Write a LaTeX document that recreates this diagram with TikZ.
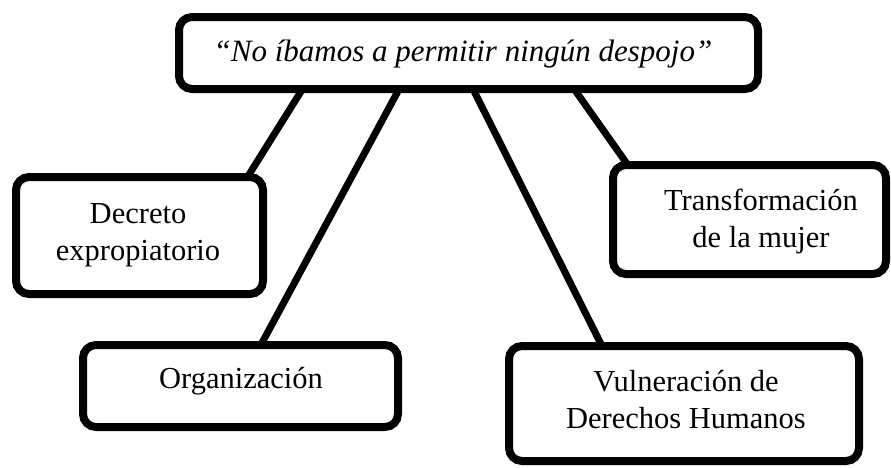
\documentclass[tikz,border=0pt]{standalone}
\usepackage{fontspec}
\setmainfont{Liberation Serif}
\usetikzlibrary{backgrounds}
\begin{document}
\begin{tikzpicture}[x=1pt,y=-1pt,
  boxnode/.style={draw=black,fill=white,line width=8pt,rounded corners=13pt,inner sep=0pt},
  conn/.style={draw=black,line width=7pt,shorten <=-6pt,shorten >=-6pt},
  lbl/.style={inner sep=0pt,align=center,font=\fontsize{30.5}{37}\selectfont}
]
\useasboundingbox (0,0) rectangle (891,467);
\node[boxnode,minimum width=579pt,minimum height=72pt] (top) at (468.5,53) {};
\node[boxnode,minimum width=247pt,minimum height=117pt] (dec) at (139.5,235.5) {};
\node[boxnode,minimum width=315pt,minimum height=82pt] (org) at (240.5,386) {};
\node[boxnode,minimum width=350pt,minimum height=115pt] (vul) at (684,403.5) {};
\node[boxnode,minimum width=273pt,minimum height=109pt] (tra) at (749.5,219.5) {};
\node[inner sep=0pt,anchor=base,font=\fontsize{31}{37}\selectfont\itshape] (toptext) at (463,61) {“No íbamos a permitir ningún despojo”};
\node[lbl] (dectext) at (138,235) {Decreto\\expropiatorio};
\node[lbl] (orgtext) at (241,381) {Organización};
\node[lbl] (vultext) at (686,400) {Vulneración\ de\\Derechos\ Humanos};
\node[lbl] (tratext) at (761,222) {Transformación\\de la\ mujer};
\begin{scope}[on background layer]
\draw[conn] ([xshift=-168.5pt]top.south) -- ([xshift=110.5pt]dec.north);
\draw[conn] ([xshift=-71.5pt]top.south) -- ([xshift=22.5pt]org.north);
\draw[conn] ([xshift=6.5pt]top.south) -- ([xshift=-84pt]vul.north);
\draw[conn] ([xshift=108.5pt]top.south) -- ([xshift=-124.5pt]tra.north);
\end{scope}
\end{tikzpicture}
\end{document}
